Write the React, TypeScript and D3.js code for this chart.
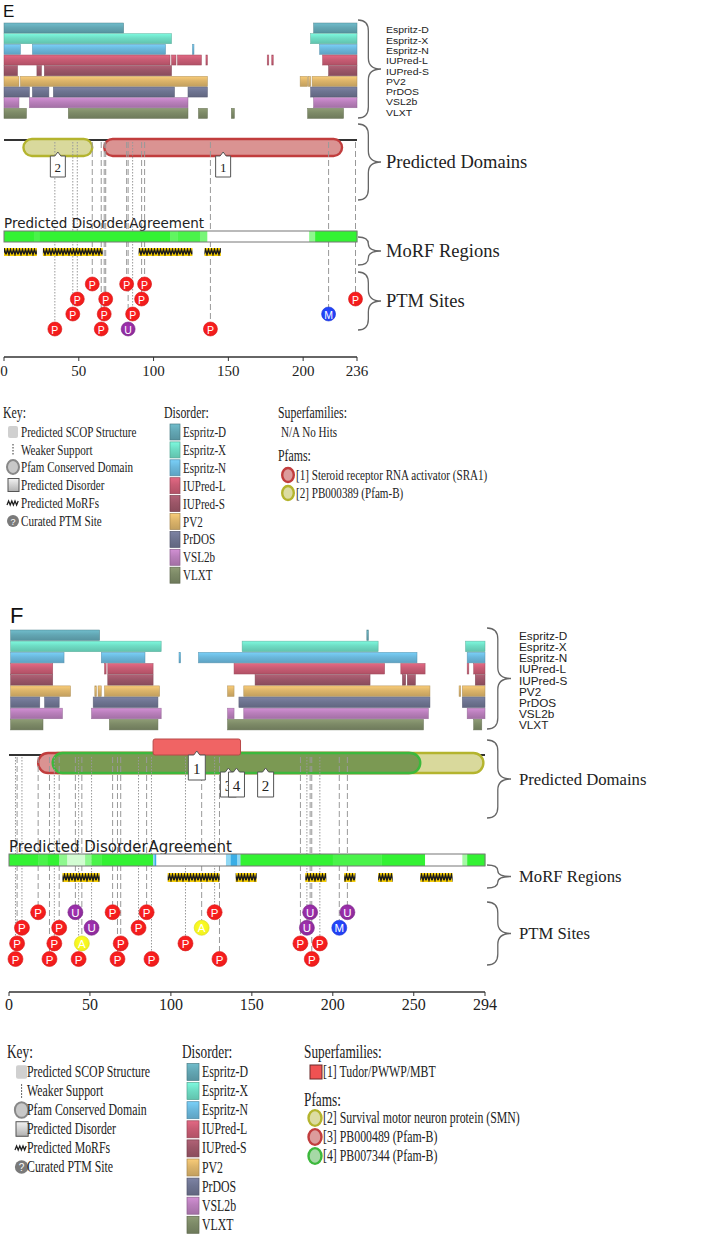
import React from "react";
import * as d3 from "d3";

// ---------------- DATA ----------------
const PREDICTORS = ["Espritz-D", "Espritz-X", "Espritz-N", "IUPred-L", "IUPred-S", "PV2", "PrDOS", "VSL2b", "VLXT"];
const PREDICTOR_COLORS = ["#63a7b4", "#6edcc4", "#6bb8dc", "#c85c74", "#9c5668", "#dcb46a", "#6e7491", "#b97fbb", "#7d8a67"];
const KEY_ITEMS = ["Predicted SCOP Structure", "Weaker Support", "Pfam Conserved Domain", "Predicted Disorder", "Predicted MoRFs", "Curated PTM Site"];

// Panel E
const E_LENGTH = 236;
const E_TICKS = [0, 50, 100, 150, 200, 236];
const E_DISORDER: [number, number][][] = [
  [[0, 80], [207, 236]],
  [[0, 112], [205, 236]],
  [[0, 11], [19, 108], [126, 127], [211, 236]],
  [[0, 111], [112, 115], [116, 132], [135, 136], [176, 177], [179, 180], [213, 236]],
  [[0, 9], [22, 25], [27, 112], [217, 236]],
  [[0, 10], [11, 136], [198, 203], [203.5, 205], [206, 236]],
  [[0, 17], [19, 30], [33, 114], [123, 136], [205, 236]],
  [[0, 10], [17, 123], [207, 236]],
  [[0, 15], [43, 123], [130, 136], [152, 154], [203, 227]],
];
const E_PFAMS = [
  { id: 2, name: "PB000389 (Pfam-B)", start: 13, end: 59, kind: "yellow" },
  { id: 1, name: "Steroid receptor RNA activator (SRA1)", start: 67, end: 226, kind: "red" },
];
const E_PFAM_LEGEND = [1, 2];
const E_MORFS: [number, number][] = [[0, 22], [26, 66], [90, 126], [134, 145]];
const E_AGREEMENT: [number, number, number][] = [
  [0, 20, 9], [20, 24, 8], [24, 111, 9], [111, 116, 7], [116, 131, 8], [131, 136, 6],
  [136, 204, 0], [204, 208, 5], [208, 236, 9],
];
const E_PTM_SITES = [34, 46, 49, 59, 65, 67, 68, 82, 83, 86, 92, 94, 138, 217, 235];
const E_PTM_TYPES = ["P", "P", "P", "P", "P", "P", "P", "P", "U", "P", "P", "P", "P", "M", "P"];
const E_PTM_WEAK = [34, 46, 49, 86];

// Panel F
const F_LENGTH = 294;
const F_TICKS = [0, 50, 100, 150, 200, 250, 294];
const F_DISORDER: [number, number][][] = [
  [[1, 56], [221, 222]],
  [[1, 94], [144, 228], [282, 294]],
  [[1, 34], [57, 84], [105, 106], [117, 252], [283, 294]],
  [[1, 27], [59, 60], [61, 89], [139, 232], [242, 257], [283, 284], [287, 294]],
  [[1, 27], [61, 89], [152, 223], [243, 245], [246, 251], [288, 294]],
  [[1, 38], [53, 54], [55, 57], [59, 93], [135, 139], [145, 260], [278, 279], [280, 294]],
  [[1, 19], [22, 31], [52, 92], [142, 260], [280, 294]],
  [[1, 33], [51, 94], [135, 139], [145, 259], [283, 294]],
  [[1, 21], [62, 92], [135, 256], [287, 292]],
];
const F_SUPERFAMILIES = [{ id: 1, name: "Tudor/PWWP/MBT", start: 89, end: 143 }];
const F_PFAMS = [
  { id: 2, name: "Survival motor neuron protein (SMN)", start: 24, end: 293, kind: "yellow" },
  { id: 3, name: "PB000489 (Pfam-B)", start: 18, end: 253, kind: "red" },
  { id: 4, name: "PB007344 (Pfam-B)", start: 27, end: 254, kind: "green" },
];
const F_PFAM_LEGEND = [2, 3, 4];
const F_MORFS: [number, number][] = [[33, 56], [98, 130], [140, 153], [183, 196], [207, 214], [228, 237], [254, 274]];
const F_AGREEMENT: [number, number, number][] = [
  [0, 18, 9], [18, 24, 8], [24, 31, 9], [31, 36, 5], [36, 47, 2], [47, 51, 5], [51, 57, 8], [57, 89, 9],
  [89, 90, -1], [90, 91, -2], [91, 134, 0], [134, 137, -1], [137, 141, -2], [141, 143, -1],
  [143, 200, 9], [200, 230, 8], [230, 257, 9], [257, 280, 0], [280, 283, 4], [283, 294, 9],
];
const F_PTM_SITES = [4, 5, 8, 18, 25, 28, 31, 41, 43, 45, 51, 64, 67, 69, 80, 85, 88, 109, 119, 127, 130, 180, 184, 186, 187, 192, 204, 209];
const F_PTM_TYPES = ["P", "P", "P", "P", "P", "P", "P", "U", "P", "A", "U", "P", "P", "P", "P", "P", "P", "P", "A", "P", "P", "P", "U", "U", "P", "P", "M", "U"];
const F_PTM_WEAK = [4, 8, 28, 43, 51, 80, 88, 109, 127, 184, 192];

// ---------------- STYLES ----------------
const PTM_COLORS: Record<string, string> = { P: "#ee1b1b", U: "#8a2a98", M: "#1f3ef0", A: "#f0f01e" };
const PFAM_STYLE: Record<string, { fill: string; stroke: string }> = {
  yellow: { fill: "#d9d99c", stroke: "#b4b42e" },
  red: { fill: "#da9392", stroke: "#c13d3d" },
  green: { fill: "#7b9953", stroke: "#3cb83c" },
};
const PFAM_LEGEND_STYLE: Record<string, { fill: string; stroke: string }> = {
  yellow: { fill: "#dcdca2", stroke: "#b4b42e" },
  red: { fill: "#dc9c9c", stroke: "#c13d3d" },
  green: { fill: "#a6d9a6", stroke: "#3cb83c" },
};

const LAYOUT_E = {
  id: "E", letter: "E", letterX: 3, letterY: 17, letterSize: 17,
  x0: 4, x1: 357, barsTop: 23, barsPitch: 10.6,
  lineY: 140, pillTop: 139, pillH: 17, superTop: 0, superH: 0,
  tagNotch: 152, tagBottom: 177, tagW: 15, tagFont: 13,
  superTagNotch: 0, superTagBottom: 0,
  agreeTextY: 228, agreeFont: 13.5, agreeTop: 231, agreeH: 11,
  morfTop: 248, morfH: 8,
  ptmBottom: 329, ptmPitch: 15, ptmR: 7, ptmFont: 10.5,
  axisY: 357, tickFont: 15, tickTextY: 376,
  braceX: 358, braceW: 23, braceLabelX: 386, braceFont: 18.5,
  disLabelTop: 30, disLabelPitch: 10.3, disLabelFont: 9.5, disLabelSx: 1.1,
  braces: [[20, 118], [124, 200], [237, 265], [272, 330]],
};
const LAYOUT_F = {
  id: "F", letter: "F", letterX: 10, letterY: 623, letterSize: 22,
  x0: 9, x1: 485, barsTop: 630, barsPitch: 11.1,
  lineY: 755, pillTop: 753, pillH: 20, superTop: 739, superH: 16,
  tagNotch: 768, tagBottom: 797, tagW: 16, tagFont: 15,
  superTagNotch: 751, superTagBottom: 780,
  agreeTextY: 852, agreeFont: 15, agreeTop: 854, agreeH: 12,
  morfTop: 873, morfH: 9,
  ptmBottom: 959, ptmPitch: 15.6, ptmR: 7.5, ptmFont: 11.5,
  axisY: 992, tickFont: 16, tickTextY: 1010,
  braceX: 487, braceW: 24, braceLabelX: 519, braceFont: 16.7,
  disLabelTop: 636, disLabelPitch: 11.2, disLabelFont: 10.5, disLabelSx: 1.12,
  braces: [[628, 729], [740, 818], [865, 888], [902, 965]],
};

const LEG_E = {
  sx: 0.74, headFont: 16, itemFont: 15, headY: 418,
  keyX: 3, keyIconX: 8, keyTextX: 21, keyRows: [432, 450, 467, 485, 503, 521],
  disX: 164, swX: 170, swW: 10, swH: 16, disTextX: 183, disTop: 432, disPitch: 17.9,
  supX: 278, supIconX: 0, supTextX: 281, supRow: 432,
  pfamHeadY: 461, pfamRows: [475, 493], pfamIconCX: 288, pfamTextX: 296, iconScale: 1,
};
const LEG_F = {
  sx: 0.74, headFont: 18, itemFont: 16, headY: 1058,
  keyX: 7, keyIconX: 16, keyTextX: 27, keyRows: [1072, 1091, 1110, 1129, 1148, 1167],
  disX: 182, swX: 187, swW: 12, swH: 17, disTextX: 202, disTop: 1072, disPitch: 19.1,
  supX: 304, supIconX: 310, supTextX: 323, supRow: 1072,
  pfamHeadY: 1106, pfamRows: [1118, 1137, 1156], pfamIconCX: 315, pfamTextX: 323, iconScale: 1.12,
};

const SERIF = "'Liberation Serif', 'DejaVu Serif', serif";
const SANS = "'Liberation Sans', Arial, sans-serif";

function bracePath(x: number, y0: number, y1: number, w: number) {
  const ym = (y0 + y1) / 2;
  const xm = x + w * 0.45;
  const r = Math.min(11, (y1 - y0) / 4);
  return `M${x},${y0} Q${xm},${y0} ${xm},${y0 + r} L${xm},${ym - r} Q${xm},${ym} ${x + w},${ym} Q${xm},${ym} ${xm},${ym + r} L${xm},${y1 - r} Q${xm},${y1} ${x},${y1}`;
}

function tagPath(cx: number, notchY: number, bottom: number, w: number) {
  const x0 = cx - w / 2, x1 = cx + w / 2, top = notchY + 4;
  return `M${x0},${top} L${cx - 3},${top} L${cx},${notchY} L${cx + 3},${top} L${x1},${top} L${x1},${bottom} L${x0},${bottom} Z`;
}

function Defs() {
  return (
    <defs>
      {PREDICTOR_COLORS.map((c, i) => (
        <linearGradient key={i} id={`pg-${i}`} x1="0" y1="0" x2="0" y2="1">
          <stop offset="0%" stopColor={d3.color(c)!.brighter(0.35).formatHex()} />
          <stop offset="45%" stopColor={c} />
          <stop offset="100%" stopColor={d3.color(c)!.darker(0.35).formatHex()} />
        </linearGradient>
      ))}
      {Object.keys(PTM_COLORS).map((k) => (
        <radialGradient key={k} id={`ptm-${k}`} cx="45%" cy="40%" r="60%">
          <stop offset="0%" stopColor={d3.color(PTM_COLORS[k])!.brighter(0.5).formatHex()} />
          <stop offset="100%" stopColor={PTM_COLORS[k]} />
        </radialGradient>
      ))}
      <linearGradient id="grayg" x1="0" y1="0" x2="0" y2="1">
        <stop offset="0%" stopColor="#f2f2f2" />
        <stop offset="100%" stopColor="#b0b0b0" />
      </linearGradient>
      {[LAYOUT_E, LAYOUT_F].map((L) => (
        <pattern key={L.id} id={`morf-${L.id}`} width={6} height={L.morfH} patternUnits="userSpaceOnUse"
          patternTransform={`translate(0,${L.morfTop})`}>
          <rect width={6} height={L.morfH} fill="#f5cd05" />
          <path d={`M0,${L.morfH * 0.8} L1.5,${L.morfH * 0.2} L3,${L.morfH * 0.8} L4.5,${L.morfH * 0.2} L6,${L.morfH * 0.8}`}
            stroke="#1a1a1a" strokeWidth={1.5} fill="none" />
        </pattern>
      ))}
    </defs>
  );
}

function Panel(props: any) {
  const { L, length, ticks, disorder, pfams, supers, morfs, agreement, sites, types, weak } = props;
  const x = d3.scaleLinear().domain([0, length]).range([L.x0, L.x1]);
  const yBand = d3.scaleBand<string>().domain(PREDICTORS).range([L.barsTop, L.barsTop + L.barsPitch * PREDICTORS.length]).paddingInner(0.06);
  const greenScale = d3.scaleLinear<string>().domain([0, 9]).range(["#ffffff", "#33f233"]).interpolate(d3.interpolateRgb);
  const agreeColor = (lv: number) => (lv === -1 ? "#8fd8f4" : lv === -2 ? "#3aaee6" : greenScale(lv));
  const ptmY = (i: number) => L.ptmBottom - (i % 4) * L.ptmPitch;
  const rowLabelY = d3.scaleLinear().domain([0, 1]).range([L.disLabelTop, L.disLabelTop + L.disLabelPitch]);

  return (
    <g>
      <text x={L.letterX} y={L.letterY} fontFamily={SANS} fontSize={L.letterSize} fill="#111">{L.letter}</text>

      {/* disorder predictor bars */}
      {disorder.map((segs: [number, number][], i: number) =>
        segs.map(([s, e], j) => (
          <rect key={`${i}-${j}`} x={x(s)} y={yBand(PREDICTORS[i])} width={Math.max(x(e) - x(s), 1.2)} height={yBand.bandwidth()}
            fill={`url(#pg-${i})`} stroke={d3.color(PREDICTOR_COLORS[i])!.darker(0.7).formatHex()} strokeWidth={0.6} strokeOpacity={0.8} />
        ))
      )}
      {PREDICTORS.map((p, i) => (
        <g key={p} transform={`translate(${L.braceLabelX},${rowLabelY(i)}) scale(${L.disLabelSx},1)`}>
          <text x={0} y={0} dominantBaseline="central" fontFamily={SANS} fontSize={L.disLabelFont} fill="#222">{p}</text>
        </g>
      ))}

      {/* domain line and domains */}
      <line x1={L.x0} x2={L.x1} y1={L.lineY} y2={L.lineY} stroke="#333" strokeWidth={2} />
      {pfams.map((d: any) => (
        <rect key={d.id} x={x(d.start)} y={L.pillTop} width={x(d.end) - x(d.start)} height={L.pillH} rx={L.pillH / 2}
          fill={PFAM_STYLE[d.kind].fill} stroke={PFAM_STYLE[d.kind].stroke} strokeWidth={2.4} />
      ))}
      {supers.map((d: any) => (
        <rect key={`s${d.id}`} x={x(d.start)} y={L.superTop} width={x(d.end) - x(d.start)} height={L.superH} rx={2}
          fill="#f06464" stroke="#b84848" strokeWidth={1} />
      ))}

      {/* PTM lines */}
      {sites.map((s: number, i: number) => (
        <line key={`l${i}`} x1={x(s)} x2={x(s)} y1={L.lineY + 2} y2={ptmY(i) - L.ptmR}
          stroke="#999" strokeWidth={1} strokeDasharray={weak.includes(s) ? "1.5,1.5" : "6,3"} />
      ))}

      {/* domain tags */}
      {pfams.map((d: any) => {
        const cx = x((d.start + d.end) / 2);
        const top = L.tagNotch + 4;
        return (
          <g key={`t${d.id}`}>
            <path d={tagPath(cx, L.tagNotch, L.tagBottom, L.tagW)} fill="#fff" stroke="#555" strokeWidth={1} />
            <text x={cx} y={(top + L.tagBottom) / 2 + 1} textAnchor="middle" dominantBaseline="central" fontFamily={SERIF} fontSize={L.tagFont} fill="#222">{d.id}</text>
          </g>
        );
      })}
      {supers.map((d: any) => {
        const cx = x((d.start + d.end) / 2);
        const top = L.superTagNotch + 4;
        return (
          <g key={`st${d.id}`}>
            <path d={tagPath(cx, L.superTagNotch, L.superTagBottom, L.tagW + 1)} fill="#fff" stroke="#555" strokeWidth={1} />
            <text x={cx} y={(top + L.superTagBottom) / 2 + 1} textAnchor="middle" dominantBaseline="central" fontFamily={SERIF} fontSize={L.tagFont} fill="#222">{d.id}</text>
          </g>
        );
      })}

      {/* disorder agreement */}
      <text x={L.x0} y={L.agreeTextY} fontFamily="'DejaVu Sans', sans-serif" fontSize={L.agreeFont} fill="#222">
        Predicted Disorder<tspan dx={-4}> Agreement</tspan>
      </text>
      {agreement.map(([s, e, lv]: [number, number, number], i: number) => (
        <rect key={`a${i}`} x={x(s)} y={L.agreeTop} width={x(e) - x(s) + 0.3} height={L.agreeH} fill={agreeColor(lv)} />
      ))}
      <rect x={L.x0} y={L.agreeTop} width={L.x1 - L.x0} height={L.agreeH} fill="none" stroke="#777" strokeWidth={1} />

      {/* MoRFs */}
      {morfs.map(([s, e]: [number, number], i: number) => (
        <rect key={`m${i}`} x={x(s)} y={L.morfTop} width={x(e) - x(s)} height={L.morfH} fill={`url(#morf-${L.id})`} />
      ))}

      {/* PTM circles */}
      {sites.map((s: number, i: number) => (
        <g key={`p${i}`}>
          <circle cx={x(s)} cy={ptmY(i)} r={L.ptmR} fill={`url(#ptm-${types[i]})`} stroke={d3.color(PTM_COLORS[types[i]])!.darker(0.3).formatHex()} strokeWidth={0.6} />
          <text x={x(s)} y={ptmY(i) + 0.5} textAnchor="middle" dominantBaseline="central" fontFamily={SANS} fontSize={L.ptmFont} fill="#fff">{types[i]}</text>
        </g>
      ))}

      {/* axis */}
      <line x1={L.x0} x2={L.x1} y1={L.axisY} y2={L.axisY} stroke="#333" strokeWidth={1.5} />
      {ticks.map((t: number) => (
        <g key={t}>
          <line x1={x(t)} x2={x(t)} y1={L.axisY} y2={L.axisY + 4} stroke="#333" strokeWidth={1} />
          <text x={x(t)} y={L.tickTextY} textAnchor="middle" fontFamily={SERIF} fontSize={L.tickFont} fill="#222">{t}</text>
        </g>
      ))}

      {/* braces */}
      {L.braces.map(([y0, y1]: [number, number], i: number) => (
        <path key={`b${i}`} d={bracePath(L.braceX, y0, y1, L.braceW)} fill="none" stroke="#666" strokeWidth={1.3} />
      ))}
      {["Predicted Domains", "MoRF Regions", "PTM Sites"].map((lab, i) => {
        const [y0, y1] = L.braces[i + 1];
        return (
          <text key={lab} x={L.braceLabelX} y={(y0 + y1) / 2} dominantBaseline="central" fontFamily={SERIF} fontSize={L.braceFont} fill="#222">{lab}</text>
        );
      })}
    </g>
  );
}

function ST({ x, y, size, sx, children }: any) {
  return (
    <g transform={`translate(${x},${y}) scale(${sx},1)`}>
      <text x={0} y={0} fontFamily={SERIF} fontSize={size} fill="#222">{children}</text>
    </g>
  );
}

function KeyIcon({ i, x, y, s }: any) {
  const w = 10 * s;
  if (i === 0) return <rect x={x} y={y - 6 * s} width={w} height={12 * s} rx={2} fill="#d0d0d0" />;
  if (i === 1) return <line x1={x + w / 2} x2={x + w / 2} y1={y - 6 * s} y2={y + 6 * s} stroke="#333" strokeWidth={1} strokeDasharray="1.5,1.5" />;
  if (i === 2) return <ellipse cx={x + w / 2} cy={y} rx={6 * s} ry={7 * s} fill="#c8c8c8" stroke="#888" strokeWidth={2} />;
  if (i === 3) return <rect x={x} y={y - 6.5 * s} width={w + 1} height={13 * s} fill="url(#grayg)" stroke="#555" strokeWidth={1} />;
  if (i === 4)
    return <path d={`M${x - 1},${y + 2} l1.6,-4 l1.6,4 l1.6,-4 l1.6,4 l1.6,-4 l1.6,4 l1.6,-4`} stroke="#222" strokeWidth={1.3} fill="none" />;
  return (
    <g>
      <circle cx={x + w / 2} cy={y} r={6 * s} fill="#7a7a7a" />
      <text x={x + w / 2} y={y + 0.5} textAnchor="middle" dominantBaseline="central" fontFamily={SANS} fontSize={9 * s} fill="#fff">?</text>
    </g>
  );
}

function Legend({ G, supers, pfams, legendIds }: any) {
  const disY = (i: number) => G.disTop + i * G.disPitch;
  return (
    <g>
      <ST x={G.keyX} y={G.headY} size={G.headFont} sx={G.sx}>Key:</ST>
      {KEY_ITEMS.map((k, i) => (
        <g key={k}>
          <KeyIcon i={i} x={G.keyIconX} y={G.keyRows[i]} s={G.iconScale} />
          <ST x={G.keyTextX} y={G.keyRows[i] + 5} size={G.itemFont} sx={G.sx}>{k}</ST>
        </g>
      ))}

      <ST x={G.disX} y={G.headY} size={G.headFont} sx={G.sx}>Disorder:</ST>
      {PREDICTORS.map((p, i) => (
        <g key={p}>
          <rect x={G.swX} y={disY(i) - G.swH / 2} width={G.swW} height={G.swH} fill={`url(#pg-${i})`}
            stroke={d3.color(PREDICTOR_COLORS[i])!.darker(0.8).formatHex()} strokeWidth={0.7} />
          <ST x={G.disTextX} y={disY(i) + 5} size={G.itemFont} sx={G.sx}>{p}</ST>
        </g>
      ))}

      <ST x={G.supX} y={G.headY} size={G.headFont} sx={G.sx}>Superfamilies:</ST>
      {supers.length === 0 ? (
        <ST x={G.supTextX} y={G.supRow + 5} size={G.itemFont} sx={G.sx}>N/A No Hits</ST>
      ) : (
        supers.map((d: any) => (
          <g key={d.id}>
            <rect x={G.supIconX} y={G.supRow - 7} width={12} height={14} fill="#ef5252" stroke="#6a2a2a" strokeWidth={1} />
            <ST x={G.supTextX} y={G.supRow + 5} size={G.itemFont} sx={G.sx}>{`[${d.id}] ${d.name}`}</ST>
          </g>
        ))
      )}

      <ST x={G.supX} y={G.pfamHeadY} size={G.headFont} sx={G.sx}>Pfams:</ST>
      {legendIds.map((id: number, i: number) => {
        const d = pfams.find((p: any) => p.id === id);
        const st = PFAM_LEGEND_STYLE[d.kind];
        return (
          <g key={id}>
            <ellipse cx={G.pfamIconCX} cy={G.pfamRows[i]} rx={5.8 * G.iconScale} ry={7 * G.iconScale} fill={st.fill} stroke={st.stroke} strokeWidth={2.4} />
            <ST x={G.pfamTextX} y={G.pfamRows[i] + 5} size={G.itemFont} sx={G.sx}>{`[${d.id}] ${d.name}`}</ST>
          </g>
        );
      })}
    </g>
  );
}

export default function App() {
  return (
    <svg width={726} height={1237} style={{ position: "absolute", left: 0, top: 0, background: "#fff" }}>
      <Defs />
      <Panel L={LAYOUT_E} length={E_LENGTH} ticks={E_TICKS} disorder={E_DISORDER} pfams={E_PFAMS} supers={[]}
        morfs={E_MORFS} agreement={E_AGREEMENT} sites={E_PTM_SITES} types={E_PTM_TYPES} weak={E_PTM_WEAK} />
      <Legend G={LEG_E} supers={[]} pfams={E_PFAMS} legendIds={E_PFAM_LEGEND} />
      <Panel L={LAYOUT_F} length={F_LENGTH} ticks={F_TICKS} disorder={F_DISORDER} pfams={F_PFAMS} supers={F_SUPERFAMILIES}
        morfs={F_MORFS} agreement={F_AGREEMENT} sites={F_PTM_SITES} types={F_PTM_TYPES} weak={F_PTM_WEAK} />
      <Legend G={LEG_F} supers={F_SUPERFAMILIES} pfams={F_PFAMS} legendIds={F_PFAM_LEGEND} />
    </svg>
  );
}
